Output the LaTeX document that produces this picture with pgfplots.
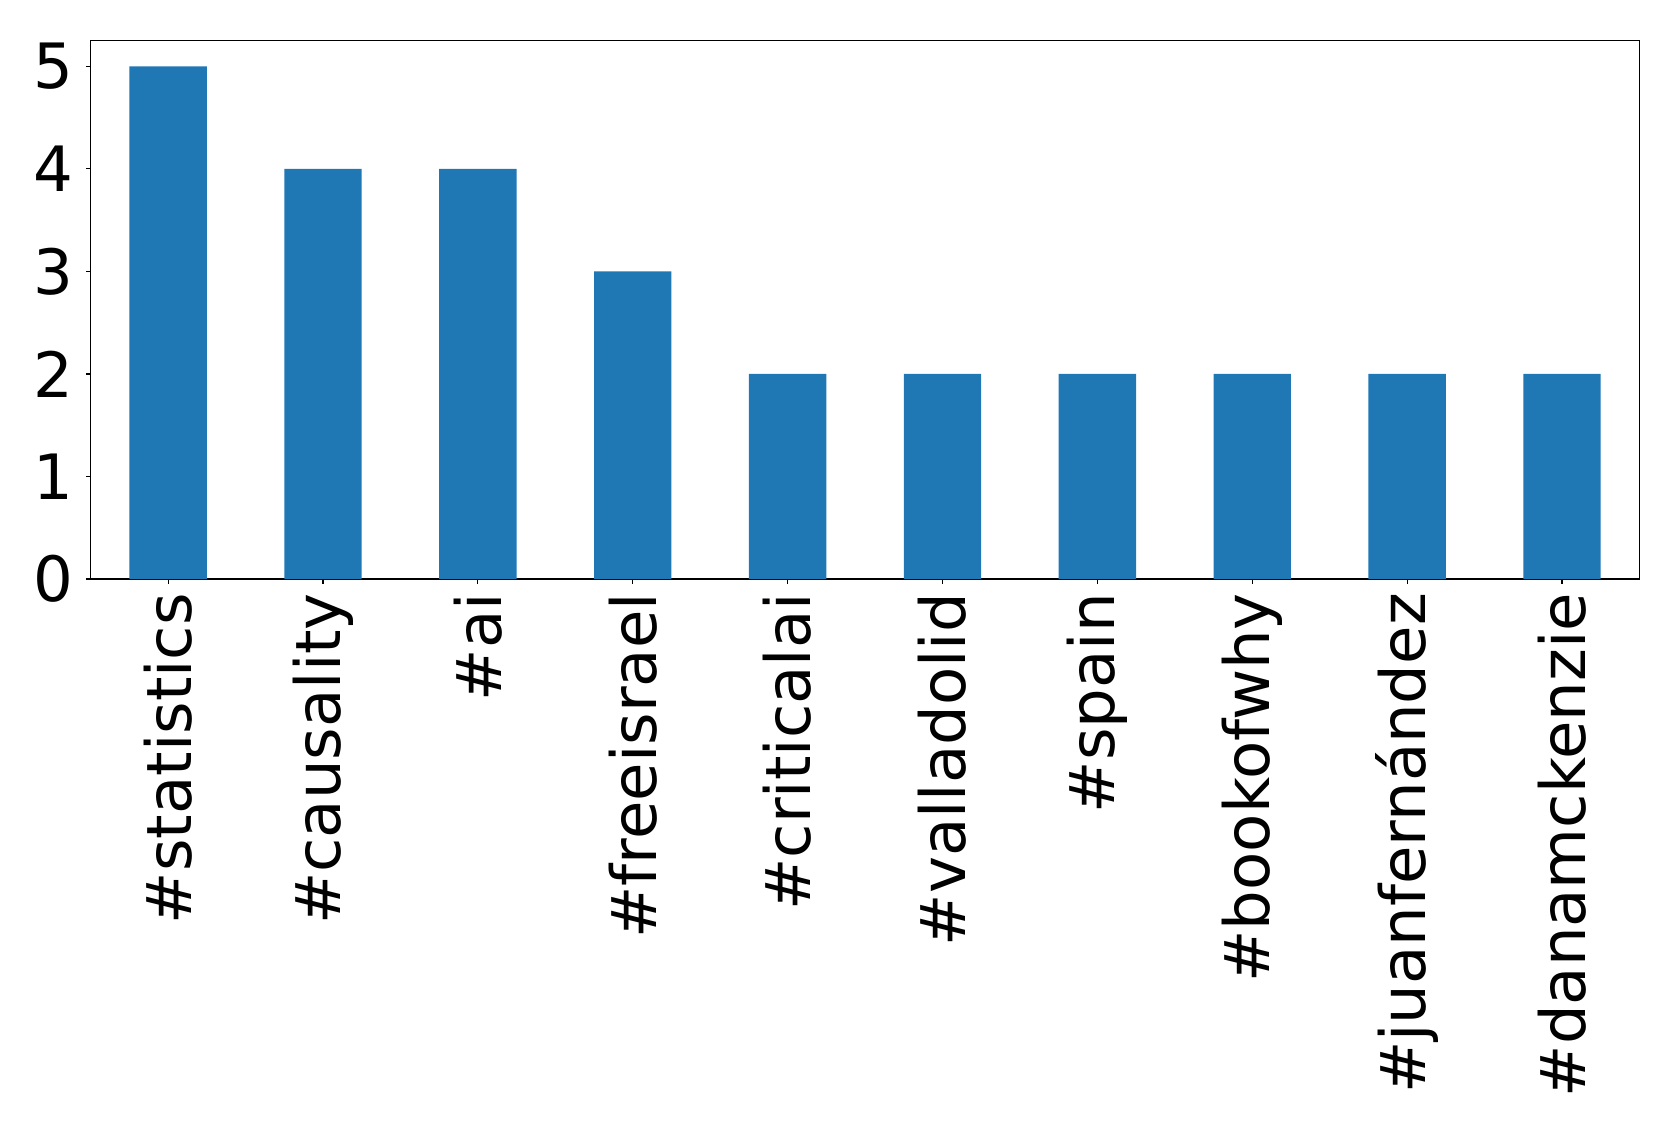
\documentclass[border=0pt]{standalone}
\usepackage{fontspec}
\setmainfont{DejaVu Sans}
\usepackage{pgfplots}
\pgfplotsset{compat=1.18}
\definecolor{mplblue}{RGB}{31,119,180}
\begin{document}
\begin{tikzpicture}
\path[use as bounding box] (0,0) rectangle (1208.9pt,815pt);
\begin{axis}[
  at={(65.3pt,398.1pt)}, anchor=south west,
  scale only axis, width=1115.1pt, height=387.6pt,
  xmin=-0.5, xmax=9.5, ymin=0, ymax=5.25,
  axis line style={line width=0.8pt},
  tick style={line width=0.8pt, black},
  tick align=outside, major tick length=3.5pt,
  xtick={0,...,9},
  xticklabels={\#statistics,\#causality,\#ai,\#freeisrael,\#criticalai,\#valladolid,\#spain,\#bookofwhy,\#juanfernández,\#danamckenzie},
  ytick={0,1,2,3,4,5},
  xtick pos=bottom, ytick pos=left,
  /pgf/number format/assume math mode=true,
  yticklabel style={font=\fontsize{45}{53}\selectfont, inner sep=0pt},
  xticklabel style={font=\fontsize{45}{53}\selectfont, rotate=90, anchor=east, inner sep=0pt},
  yticklabel shift=9pt,
  xticklabel shift=6.5pt,
]
\addplot[ybar, bar width=0.5, fill=mplblue, draw=none] coordinates {
(0,5) (1,4) (2,4) (3,3) (4,2) (5,2) (6,2) (7,2) (8,2) (9,2)};
\end{axis}
\end{tikzpicture}
\end{document}
